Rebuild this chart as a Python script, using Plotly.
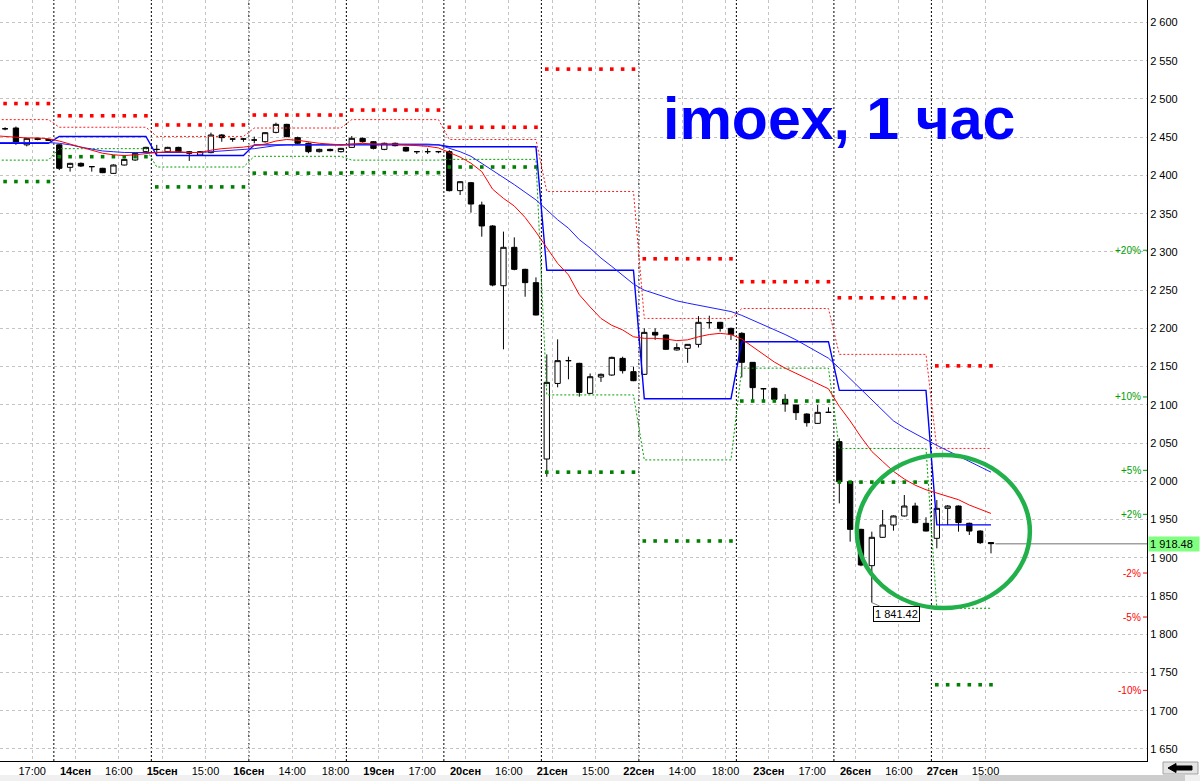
import plotly.graph_objects as go

# ---------------- data ----------------
days = ["13сен", "14сен", "15сен", "16сен", "19сен", "20сен",
        "21сен", "22сен", "23сен", "26сен", "27сен"]
hours = [10, 11, 12, 13, 14, 15, 16, 17, 18]   # hourly candles per session
first_candle = 4      # first visible candle index (13 Sep 14:00)

opens = [2461, 2462, 2440, 2448.5, 2447,
         2440, 2410.6, 2415.8, 2411.5, 2409.3, 2402.7, 2413.6, 2420.2, 2431.1,
         2434, 2431.1, 2436.7, 2431, 2426.7, 2429.8, 2452.9, 2447.6, 2447.6,
         2446.3, 2444.1, 2456.3, 2466.8, 2449.4, 2442, 2431.1, 2434.1, 2431.1,
         2436.7, 2448.5, 2444.1, 2434.1, 2442, 2436.7, 2431.1, 2431.1, 2431.1,
         2431.1, 2380.1, 2390.5, 2361.3, 2333.9, 2255.8, 2306, 2277.2, 2259.8,
         2029.2, 2128, 2157.8, 2154.3, 2115, 2136.4, 2139, 2160.8, 2143.4,
         2139.9, 2194.8, 2191.3, 2171.8, 2173.9, 2179.1, 2207.5, 2207.9, 2200,
         2193.5, 2155.6, 2121.1, 2121.6, 2107.2, 2099.8, 2088, 2075.8, 2090.2,
         2051.9, 1999.6, 1937.2, 1889.7, 1926.8, 1942.9, 1954.7, 1967.7, 1945.1,
         1925.5, 1964.7, 1967.7, 1945.1, 1935, 1920]
highs = [2463, 2464, 2449, 2449, 2448,
         2441, 2416.5, 2417, 2412, 2410, 2414.5, 2422, 2429.5, 2437.5,
         2440, 2437.5, 2437.5, 2432, 2432, 2456, 2454, 2448.5, 2449,
         2450.7, 2456.5, 2469, 2467.5, 2450.7, 2443, 2435, 2435, 2436,
         2451.5, 2449.5, 2445, 2443, 2443, 2437.5, 2432, 2435.4, 2432,
         2433, 2392.5, 2391.5, 2365.7, 2335, 2326.5, 2319, 2278, 2266.7,
         2166, 2185.6, 2163, 2155, 2141, 2141, 2163, 2163, 2150,
         2200, 2200, 2192, 2180.5, 2179.5, 2216, 2216.6, 2208.5, 2201,
         2195, 2156, 2122, 2122.5, 2114, 2100.5, 2089, 2099.8, 2096.8,
         2056.2, 2000.5, 1938, 1934.2, 1962.5, 1955.5, 1982.1, 1972, 1953,
         1975.6, 1969, 1968.5, 1946, 1936, 1920.5]
lows = [2459, 2440, 2438, 2446, 2445,
        2407, 2405, 2411, 2405, 2403, 2402, 2413, 2419, 2430,
        2427, 2430, 2430, 2419, 2426, 2429, 2444, 2444, 2444,
        2442, 2443, 2455, 2450, 2441, 2429, 2430, 2431.5, 2430,
        2436, 2443, 2434, 2433, 2438, 2431, 2428, 2428, 2429,
        2379, 2374.4, 2351.3, 2319.9, 2255, 2172.6, 2276, 2241.4, 2217,
        2006, 2122.9, 2133.4, 2110.7, 2114, 2130, 2138, 2141, 2131,
        2139, 2185, 2172, 2171, 2155, 2175, 2200, 2195.7, 2184.8,
        2136, 2106.3, 2106.3, 2106, 2091, 2080.2, 2071.5, 2075, 2090,
        1971.2, 1921.1, 1889, 1841.42, 1926, 1935.5, 1954, 1945, 1934.5,
        1912.4, 1942.9, 1934.2, 1929.8, 1918, 1905.8]
closes = [2461, 2442, 2448.5, 2447, 2446,
          2409.3, 2415.8, 2412.3, 2411.5, 2403.6, 2413.6, 2421, 2428.9, 2436.7,
          2434, 2436.7, 2431.1, 2429, 2431.1, 2452.9, 2449.4, 2447.6, 2447.6,
          2446.3, 2455.9, 2466.8, 2450.7, 2442, 2431.1, 2434.1, 2432.4, 2435.4,
          2448.5, 2444.1, 2435.4, 2442, 2438.9, 2431.9, 2431.1, 2431.1, 2431.1,
          2380.1, 2391.8, 2362.6, 2333.9, 2256.7, 2306, 2277.2, 2259.8, 2217.5,
          2129.4, 2157.8, 2157.8, 2116.3, 2136.8, 2139.9, 2162.1, 2144.7, 2131.6,
          2194.8, 2191.3, 2172.6, 2174.9, 2179.1, 2207.9, 2207.5, 2200, 2192.2,
          2155.6, 2122.5, 2121.1, 2107.2, 2101.1, 2089.8, 2076.7, 2090.2, 2090.2,
          1999.6, 1937.2, 1890.6, 1926.8, 1942.9, 1954.7, 1967.7, 1946, 1935,
          1964.7, 1967.7, 1946, 1935, 1919.8, 1918.48]

ma_start = 3          # moving averages start one candle left of view
red_ma = [2452, 2451, 2450, 2449, 2449, 2448,
          2445, 2441, 2437, 2433, 2429, 2427, 2426, 2427, 2429,
          2430, 2431, 2431, 2430, 2430, 2433, 2435, 2436, 2437,
          2439, 2441, 2445, 2447, 2446, 2444, 2442, 2441, 2440,
          2441, 2442, 2441, 2441, 2441, 2440, 2439, 2438, 2436,
          2430, 2424, 2416, 2405, 2382, 2370, 2360, 2345, 2326,
          2305, 2285, 2270, 2244, 2228, 2213, 2204, 2198, 2189,
          2187, 2187, 2186, 2184, 2185, 2189, 2192, 2193.5, 2192,
          2186, 2176, 2165, 2156, 2148, 2141, 2135, 2128, 2121,
          2098, 2079, 2058, 2039, 2026, 2013, 2003, 1995, 1989,
          1985, 1981, 1976, 1969, 1963, 1958]
blue_ma = [2443, 2443, 2443, 2443, 2443, 2443,
           2442, 2440, 2437, 2434, 2432, 2431, 2430, 2430, 2430,
           2430, 2430, 2430, 2430, 2430, 2431, 2432, 2433, 2434,
           2435, 2437, 2439, 2440, 2440, 2440, 2440, 2440, 2440,
           2441, 2441, 2441, 2441, 2441, 2441, 2441, 2441, 2440,
           2436, 2431, 2425, 2416, 2407, 2398, 2388, 2378, 2368,
           2355, 2342, 2331, 2316, 2305, 2292, 2281, 2270, 2258,
           2250, 2245, 2240, 2236, 2233, 2230, 2227, 2225, 2222,
           2217, 2211, 2205, 2199, 2192, 2185, 2177, 2169, 2161,
           2148, 2134, 2120, 2106, 2093, 2079, 2070, 2062, 2054,
           2047, 2040, 2033, 2026, 2019, 2012]

# per-day levels
blue_step = [2442, 2451, 2426, 2440, 2440, 2437.5, 2276, 2108, 2182.6, 2119, 1943]
red_outer = [2494, 2478, 2466, 2479, 2485.5, 2463, 2539, 2291, 2261, 2240, 2151]
red_inner = [2473, 2463, 2451, 2462, 2473, 2447, 2379, 2213, 2226, 2166, 2043]
green_inner = [2420, 2435, 2411, 2425, 2420, 2421, 2113, 2028, 2148, 2043, 1834]
green_outer = [2392, 2424.5, 2385, 2403, 2403.6, 2411, 2012, 1922, 2105, 1999, 1734]

last_price = 1918.48
pct_levels = [20, 10, 5, 2, -2, -5, -10]
y_ticks = list(range(1650, 2601, 50))
title_text = "imoex, 1 час"

# ---------------- derived ----------------
n_per_day = len(hours)
ks = list(range(first_candle, first_candle + len(closes)))
last_k = ks[-1]
lvl_k = list(range(0, last_k + 1))


def per_candle(day_vals, kk):
    return [day_vals[k // n_per_day] for k in kk]


W, H = 1200, 781
PL, PR, PT, PB = 0, 1147, 0, 761
XR = [3.53, 109.4]
YR = [1634.3, 2629.4]


def px_x(p):
    return (p - PL) / (PR - PL)


def px_y(p):
    return (PB - p) / (PB - PT)


fig = go.Figure()

# candles
fig.add_trace(go.Candlestick(
    x=ks, open=opens, high=highs, low=lows, close=closes,
    increasing=dict(line=dict(color="black", width=1), fillcolor="white"),
    decreasing=dict(line=dict(color="black", width=1), fillcolor="black"),
    whiskerwidth=0, hoverinfo="skip", showlegend=False))

# thin dashed day levels
for vals, col in [(red_inner, "#ff2020"), (green_inner, "#00a000")]:
    fig.add_trace(go.Scatter(x=lvl_k, y=per_candle(vals, lvl_k), mode="lines",
                             line=dict(color=col, width=1, dash="2px,2px"),
                             hoverinfo="skip", showlegend=False))
# thick dotted day levels
for vals, col in [(red_outer, "#ff0000"), (green_outer, "#008000")]:
    fig.add_trace(go.Scatter(x=lvl_k, y=per_candle(vals, lvl_k), mode="markers",
                             marker=dict(color=col, size=3.6, symbol="square",
                                         line=dict(width=0)),
                             hoverinfo="skip", showlegend=False))

ma_k = list(range(ma_start, ma_start + len(red_ma)))
fig.add_trace(go.Scatter(x=lvl_k, y=per_candle(blue_step, lvl_k), mode="lines",
                         line=dict(color="#0000ff", width=1.4),
                         hoverinfo="skip", showlegend=False))
fig.add_trace(go.Scatter(x=ma_k, y=blue_ma, mode="lines",
                         line=dict(color="#2020ff", width=1),
                         hoverinfo="skip", showlegend=False))
fig.add_trace(go.Scatter(x=ma_k, y=red_ma, mode="lines",
                         line=dict(color="#ff0000", width=1),
                         hoverinfo="skip", showlegend=False))

# x ticks: every 4 candles, first in a day shows the date
tickvals, ticktext = [], []
seen_days = set()
for k in range(3, last_k + 1, 4):
    d = k // n_per_day
    if d not in seen_days:
        seen_days.add(d)
        lab = "<b>" + days[d] + "</b>"
    else:
        lab = f"{hours[k % n_per_day]}:00"
    if k - 0.5 >= XR[0]:
        tickvals.append(k - 0.5)
        ticktext.append(lab)

shapes = []
# day separators
for d in range(1, len(days)):
    xb = d * n_per_day - 0.5
    shapes.append(dict(type="line", xref="x", yref="paper", x0=xb, x1=xb, y0=0, y1=1,
                       line=dict(color="black", width=1, dash="2px,2px"), layer="below"))

# current price line
shapes.append(dict(type="line", xref="x", yref="y", x0=last_k + 0.4, x1=XR[1],
                   y0=last_price, y1=last_price,
                   line=dict(color="#a0a0a0", width=1.5), layer="above"))

# percent ticks on the axis
annotations = []
for p in pct_levels:
    v = last_price * (1 + p / 100)
    col = "#00a000" if p > 0 else "#ff0000"
    txt = (f"+{p}%" if p > 0 else f"-{abs(p)}%")
    annotations.append(dict(xref="paper", yref="y", x=1, y=v, xanchor="right",
                            yanchor="middle", xshift=-4, text=txt, showarrow=False,
                            font=dict(family="Liberation Sans", size=10, color=col)))
    shapes.append(dict(type="line", xref="paper", yref="y", x0=1 - 4 / (PR - PL), x1=1,
                       y0=v, y1=v, line=dict(color=col, width=1)))

# current price label
annotations.append(dict(xref="paper", yref="y", x=1, y=last_price, xanchor="left",
                        yanchor="middle", xshift=1, text="1 918.48", showarrow=False,
                        bgcolor="#80ff80", width=48, align="left", borderpad=1,
                        font=dict(family="Liberation Sans", size=11, color="black")))

# low label
k_low = ks[lows.index(min(lows))]
annotations.append(dict(xref="x", yref="y", x=k_low, y=min(lows),
                        text="1 841.42", showarrow=True, arrowhead=0, arrowwidth=1,
                        arrowcolor="#808080", ax=25, ay=11, bgcolor="white",
                        bordercolor="black", borderwidth=1, borderpad=1,
                        font=dict(family="Liberation Sans", size=11, color="black")))

# title
annotations.append(dict(xref="paper", yref="paper", x=px_x(661), y=px_y(119),
                        xanchor="left", yanchor="middle", text="<b>" + title_text + "</b>",
                        showarrow=False,
                        font=dict(family="Liberation Sans", size=59, color="#0000ff")))

# green ellipse
shapes.append(dict(type="circle", xref="x", yref="y", x0=82.62, x1=98.59,
                   y0=1834.3, y1=2034.4, line=dict(color="#22b04a", width=4.5),
                   layer="above"))

# bottom scroll strip + arrow button (window chrome)
shapes.append(dict(type="rect", xref="paper", yref="paper", x0=px_x(0), x1=px_x(1200),
                   y0=px_y(781), y1=px_y(775), fillcolor="#f0f0f0",
                   line=dict(width=0)))
shapes.append(dict(type="rect", xref="paper", yref="paper", x0=px_x(979), x1=px_x(1185),
                   y0=px_y(781), y1=px_y(775), fillcolor="#cdcdcd",
                   line=dict(width=0)))
shapes.append(dict(type="rect", xref="paper", yref="paper", x0=px_x(1163), x1=px_x(1198),
                   y0=px_y(774), y1=px_y(762), fillcolor="#e4e4e4",
                   line=dict(color="#a0a0a0", width=1)))
arrow_pts = [(1168, 768), (1176, 763.5), (1176, 766), (1192, 766), (1192, 770),
             (1176, 770), (1176, 772.5)]
path = "M " + " L ".join(f"{px_x(a):.5f},{px_y(b):.5f}" for a, b in arrow_pts) + " Z"
shapes.append(dict(type="path", xref="paper", yref="paper", path=path,
                   fillcolor="black", line=dict(color="black", width=1)))

fig.update_layout(
    width=W, height=H,
    margin=dict(l=PL, r=W - PR, t=PT, b=H - PB),
    paper_bgcolor="white", plot_bgcolor="white",
    showlegend=False,
    shapes=shapes, annotations=annotations,
    xaxis=dict(range=XR, tickvals=tickvals, ticktext=ticktext,
               showgrid=True, gridcolor="#c4c4c4", griddash="3px,3px", gridwidth=1,
               zeroline=False, showline=True, linecolor="black", linewidth=1,
               ticks="", rangeslider=dict(visible=False),
               tickfont=dict(family="Liberation Sans", size=11, color="black")),
    yaxis=dict(range=YR, side="right", tickvals=y_ticks,
               ticktext=[f"{v // 1000} {v % 1000:03d}" for v in y_ticks],
               showgrid=True, gridcolor="#c4c4c4", griddash="3px,3px", gridwidth=1,
               zeroline=False, showline=True, linecolor="black", linewidth=1,
               ticks="", tickfont=dict(family="Liberation Sans", size=11, color="black")),
)

fig.write_html("out.html", config={"displayModeBar": False},
               post_script="document.body.style.margin='0px';"
                           "document.body.style.overflow='hidden';")
